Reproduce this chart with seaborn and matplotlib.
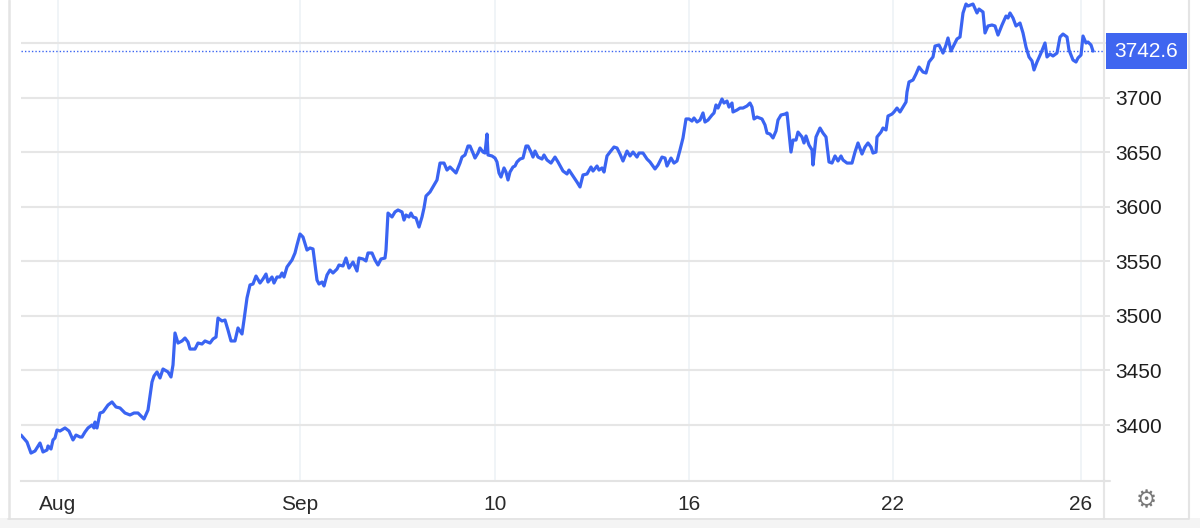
import matplotlib
matplotlib.use("Agg")
import matplotlib.pyplot as plt
import matplotlib.transforms as mtransforms
from matplotlib.lines import Line2D
from matplotlib.patches import Rectangle
import numpy as np
import pandas as pd
import seaborn as sns

# ---------------- data ----------------
t = [21, 27, 31, 35, 40, 43, 47, 48, 51, 53, 55, 57, 60, 65, 69, 73, 76, 80, 82, 85,
     88, 92, 94, 95, 97, 100, 103, 108, 112, 116, 120, 125, 130, 134, 138, 141, 144, 148, 152, 154,
     157, 160, 163, 168, 171, 173, 175, 178, 182, 185, 188, 190, 195, 198, 202, 205, 210, 213, 216, 218,
     222, 225, 228, 231, 235, 238, 242, 244, 247, 250, 253, 256, 260, 263, 266, 268, 272, 274, 277, 280,
     282, 284, 287, 292, 295, 297, 300, 303, 307, 310, 313, 317, 319, 322, 324, 327, 330, 333, 337, 339,
     343, 346, 349, 353, 357, 359, 363, 366, 368, 372, 375, 378, 381, 385, 386, 388, 392, 395, 398, 402,
     404, 406, 409, 411, 413, 416, 419, 422, 424, 426, 430, 434, 437, 440, 444, 447, 450, 453, 456, 460,
     462, 465, 468, 470, 473, 475, 478, 480, 483, 485, 487, 488, 492, 495, 497, 499, 501, 504, 506, 508,
     510, 513, 515, 517, 520, 523, 526, 528, 531, 533, 535, 538, 542, 544, 547, 551, 555, 558, 563, 567,
     569, 573, 577, 580, 583, 587, 591, 593, 597, 599, 602, 604, 607, 610, 614, 617, 620, 623, 627, 630,
     633, 637, 639, 643, 647, 650, 655, 658, 662, 665, 667, 671, 674, 677, 680, 683, 686, 689, 692, 694,
     697, 700, 703, 705, 708, 712, 714, 716, 718, 722, 724, 727, 729, 732, 733, 737, 740, 743, 747, 750,
     752, 754, 757, 762, 765, 767, 770, 773, 776, 778, 781, 785, 787, 791, 793, 796, 798, 802, 804, 806,
     809, 812, 813, 816, 820, 823, 826, 829, 832, 835, 838, 841, 843, 847, 852, 855, 858, 862, 865, 868,
     871, 873, 876, 877, 881, 883, 886, 888, 892, 894, 897, 900, 903, 906, 907, 909, 913, 916, 919, 923,
     926, 929, 933, 935, 939, 943, 946, 948, 951, 953, 957, 960, 963, 966, 968, 973, 977, 979, 983, 985,
     988, 992, 995, 998, 1002, 1006, 1008, 1010, 1013, 1016, 1020, 1023, 1026, 1029, 1032, 1034, 1037, 1041, 1045, 1047,
     1050, 1053, 1057, 1060, 1063, 1067, 1069, 1073, 1076, 1078, 1081, 1083, 1086, 1088, 1091, 1093]

price = [3390.8, 3384.4, 3374.3, 3376.2, 3383.5, 3375.3, 3377.1, 3380.8, 3378.0, 3386.3, 3388.1, 3395.4, 3394.5, 3397.3, 3394.5, 3386.3, 3390.8, 3389.0, 3389.0, 3393.6,
         3397.3, 3400.0, 3397.3, 3402.7, 3397.3, 3411.0, 3411.9, 3418.3, 3421.1, 3416.5, 3415.6, 3411.0, 3409.2, 3411.0, 3411.0, 3408.2, 3405.5, 3413.7, 3439.4, 3444.9,
         3448.6, 3443.1, 3451.3, 3448.6, 3444.0, 3455.0, 3484.3, 3475.1, 3477.0, 3479.7, 3476.0, 3469.6, 3469.6, 3475.1, 3474.2, 3477.0, 3475.1, 3478.8, 3480.6, 3498.0,
         3495.3, 3496.2, 3487.0, 3477.0, 3477.0, 3488.9, 3483.4, 3496.2, 3516.4, 3528.3, 3529.2, 3536.5, 3530.1, 3533.8, 3538.3, 3531.0, 3535.6, 3530.1, 3535.6, 3535.6,
         3539.3, 3535.6, 3544.8, 3551.2, 3557.6, 3564.9, 3575.0, 3572.2, 3560.3, 3562.2, 3561.3, 3532.8, 3529.2, 3531.0, 3527.4, 3537.4, 3542.0, 3539.3, 3542.9, 3546.6,
         3545.7, 3553.0, 3543.8, 3549.3, 3541.1, 3553.0, 3552.1, 3550.3, 3557.6, 3557.6, 3551.2, 3546.6, 3552.1, 3553.0, 3560.3, 3594.2, 3590.6, 3595.2, 3597.0, 3595.2,
         3587.8, 3592.4, 3590.6, 3594.2, 3590.6, 3589.7, 3581.4, 3590.6, 3598.8, 3609.8, 3613.5, 3619.9, 3624.5, 3640.0, 3640.0, 3633.6, 3636.4, 3633.6, 3630.9, 3640.0,
         3645.5, 3647.4, 3655.6, 3655.6, 3649.2, 3644.6, 3649.2, 3653.8, 3650.1, 3649.2, 3666.6, 3647.4, 3646.5, 3644.6, 3641.0, 3630.9, 3627.2, 3635.5, 3631.8, 3624.5,
         3631.8, 3636.4, 3637.3, 3641.0, 3643.7, 3644.6, 3655.6, 3655.6, 3650.1, 3645.5, 3651.0, 3645.5, 3643.7, 3647.4, 3642.8, 3640.0, 3645.5, 3641.0, 3632.7, 3630.0,
         3633.6, 3628.1, 3622.6, 3618.1, 3629.1, 3630.0, 3636.4, 3632.7, 3637.3, 3633.6, 3635.5, 3631.8, 3646.5, 3650.1, 3654.7, 3653.8, 3648.3, 3641.9, 3651.0, 3646.5,
         3650.1, 3645.5, 3649.2, 3649.2, 3643.7, 3641.0, 3634.6, 3638.2, 3645.5, 3644.6, 3637.3, 3644.6, 3640.0, 3641.9, 3652.0, 3663.0, 3680.4, 3680.4, 3678.5, 3681.3,
         3677.6, 3679.4, 3685.9, 3677.6, 3679.4, 3684.0, 3685.9, 3693.2, 3690.4, 3698.7, 3695.0, 3696.8, 3691.3, 3695.0, 3686.8, 3688.6, 3690.4, 3690.4, 3692.3, 3695.0,
         3691.3, 3680.4, 3682.2, 3680.4, 3674.9, 3667.5, 3666.6, 3663.0, 3669.4, 3679.4, 3684.0, 3684.9, 3685.9, 3650.1, 3661.1, 3661.1, 3668.4, 3663.9, 3658.4, 3664.8,
         3656.5, 3652.0, 3638.2, 3663.9, 3672.1, 3667.5, 3663.9, 3641.0, 3640.0, 3646.5, 3641.9, 3646.5, 3642.8, 3640.0, 3640.0, 3650.1, 3658.4, 3648.3, 3654.7, 3658.4,
         3654.7, 3649.2, 3650.1, 3663.9, 3668.4, 3672.1, 3670.3, 3683.1, 3684.9, 3686.8, 3690.4, 3686.8, 3691.3, 3695.9, 3705.1, 3714.3, 3716.1, 3721.6, 3728.0, 3723.4,
         3722.5, 3732.6, 3737.2, 3747.2, 3748.2, 3740.8, 3748.2, 3754.6, 3742.7, 3746.3, 3753.7, 3755.5, 3777.5, 3785.7, 3783.9, 3785.7, 3777.5, 3781.1, 3778.4, 3759.2,
         3765.6, 3766.5, 3765.6, 3757.3, 3766.5, 3774.7, 3772.9, 3777.5, 3772.9, 3765.6, 3768.3, 3759.2, 3746.3, 3737.2, 3733.5, 3725.3, 3732.6, 3740.8, 3750.0, 3737.2,
         3739.9, 3738.1, 3740.8, 3755.5, 3758.2, 3755.5, 3743.6, 3734.4, 3732.6, 3736.3, 3739.0, 3756.4, 3750.0, 3750.9, 3748.2, 3742.6]

x_tick_pos = [58, 300, 495, 689, 893, 1081]
x_tick_labels = ["Aug", "Sep", "10", "16", "22", "26"]
y_ticks = [3400, 3450, 3500, 3550, 3600, 3650, 3700, 3750]
last_price = 3742.6

df = pd.DataFrame({"t": t, "price": price})

# ---------------- style ----------------
sns.set_theme(style="white")
plt.rcParams["font.family"] = ["Liberation Sans", "DejaVu Sans"]

W, H = 1200, 528
fig = plt.figure(figsize=(W / 100, H / 100), dpi=100)
fig.patch.set_facecolor("white")

ax_left, ax_right, ax_bottom, ax_top = 21, 1104, 481, 0
ax = fig.add_axes([ax_left / W, (H - ax_bottom) / H,
                   (ax_right - ax_left) / W, (ax_bottom - ax_top) / H])
ax.set_facecolor("white")

line_color = "#3a64f2"
sns.lineplot(data=df, x="t", y="price", ax=ax, color=line_color,
             linewidth=2.3, zorder=4)

ax.set_xlim(21, 1104)
ax.set_ylim(3348.7, 3789.4)

# gridlines
ax.set_yticks(y_ticks)
ax.set_yticklabels([str(v) for v in y_ticks])
ax.set_xticks(x_tick_pos)
ax.set_xticklabels(x_tick_labels)
ax.yaxis.grid(True, color="#e6e6e6", linewidth=1.5)
ax.xaxis.grid(True, color="#eef2f6", linewidth=1.2)
ax.set_axisbelow(True)

ax.yaxis.tick_right()
ax.tick_params(axis="y", which="both", right=True, left=False, length=4,
               width=1.2, color="#e0e0e0", pad=4, labelsize=15,
               labelcolor="#1e1e1e")
ax.tick_params(axis="x", which="both", bottom=False, length=0, pad=10,
               labelsize=15, labelcolor="#2a2a2a")
ax.set_xlabel("")
ax.set_ylabel("")

for s in ["top", "left"]:
    ax.spines[s].set_visible(False)
ax.spines["bottom"].set_color("#e3e3e3")
ax.spines["bottom"].set_linewidth(1.5)
ax.spines["right"].set_color("#e6e6e6")
ax.spines["right"].set_linewidth(1.5)

# dotted last-price line
ax.axhline(last_price, color=line_color, linestyle=(0, (1, 1.5)),
           linewidth=1.0, zorder=3)

# last price tag
blend = mtransforms.blended_transform_factory(fig.transFigure, ax.transData)
ax.text(1146.5 / W, last_price, f"{last_price:.1f}", transform=blend,
        ha="center", va="center", fontsize=15, color="white", zorder=10,
        bbox=dict(boxstyle="square,pad=0.42", facecolor="#3f66f0",
                  edgecolor="none"), clip_on=False)

# container frame and footer
def fx(px):
    return px / W

def fy(py):
    return (H - py) / H

fig.add_artist(Line2D([fx(8.5), fx(8.5)], [fy(0), fy(518)], color="#e4e4e4",
                      linewidth=1.8, transform=fig.transFigure))
fig.add_artist(Line2D([fx(1188.5), fx(1188.5)], [fy(0), fy(518)], color="#e4e4e4",
                      linewidth=1.5, transform=fig.transFigure))
fig.add_artist(Line2D([fx(1104), fx(1104)], [fy(481), fy(518)], color="#e6e6e6",
                      linewidth=1.5, transform=fig.transFigure))
fig.add_artist(Line2D([fx(1104), fx(1110)], [fy(481), fy(481)], color="#e3e3e3",
                      linewidth=1.5, transform=fig.transFigure))
fig.add_artist(Rectangle((0, 0), 1, fy(518), transform=fig.transFigure,
                         facecolor="#f4f4f4", edgecolor="none"))
fig.add_artist(Line2D([fx(8), fx(1189)], [fy(518.5), fy(518.5)], color="#e2e2e2",
                      linewidth=1.2, transform=fig.transFigure))

# settings gear
fig.text(fx(1146), fy(500), "\u2699", ha="center", va="center", fontsize=17,
         color="#7a7a7a", family=["DejaVu Sans"])

fig.savefig("out.png", dpi=100, facecolor="white")
